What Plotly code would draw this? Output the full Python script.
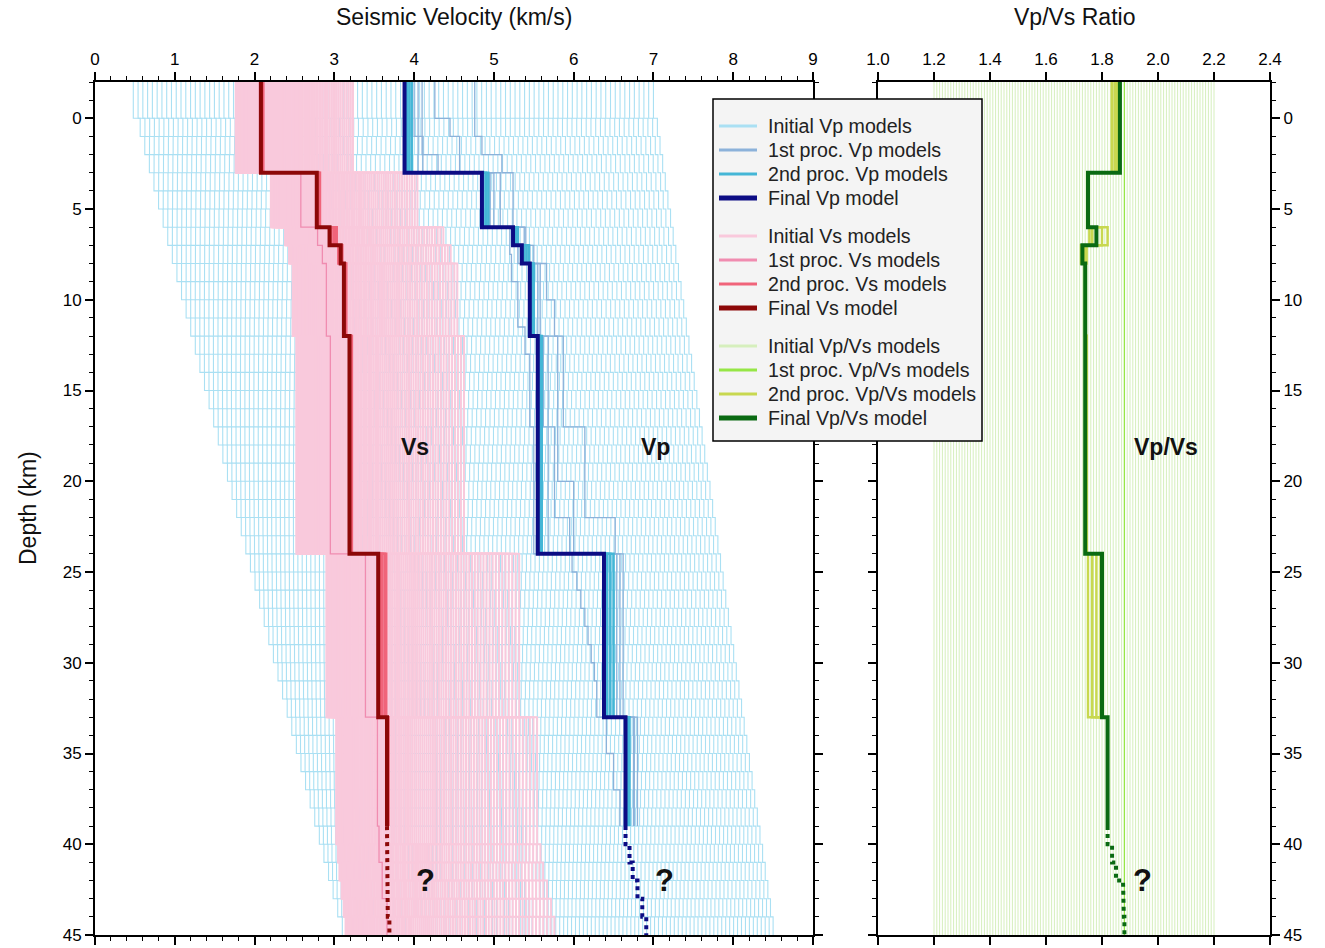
import numpy as np
import plotly.graph_objects as go

W, H = 1325, 948

# ---------------- data ----------------
# final models (block tops in km, value inside each block)
FINAL_TOPS = [-2, 3, 6, 7, 8, 12, 24, 33]
SOLID_BOTTOM = 39
VP_FINAL = [3.88, 4.85, 5.24, 5.35, 5.45, 5.55, 6.38, 6.65]
VS_FINAL = [2.08, 2.78, 2.94, 3.08, 3.12, 3.19, 3.55, 3.66]
RATIO_FINAL = [1.864, 1.75, 1.78, 1.73, 1.74, 1.74, 1.80, 1.82]

# uncertain (dotted) part of final models
DOT_TOPS = [39, 40, 41, 42, 43, 44]
MAX_DEPTH = 45
VP_FINAL_DOT = [6.65, 6.70, 6.74, 6.80, 6.86, 6.91]
VS_FINAL_DOT = [3.66, 3.66, 3.66, 3.66, 3.67, 3.69]
RATIO_FINAL_DOT = [1.82, 1.836, 1.85, 1.875, 1.878, 1.88]

# 1st processing Vp models
VP1_A_TOPS = [-2, 0, 1, 3, 6, 7, 8, 12, 24, 33]
VP1_A = [4.26, 4.45, 4.57, 4.95, 5.30, 5.45, 5.55, 5.68, 6.54, 6.75]
VP1_B_TOPS = [-2, 1, 2, 3, 6, 8, 10, 12, 17, 22, 24, 33]
VP1_B = [4.76, 4.85, 5.10, 5.24, 5.40, 5.66, 5.76, 5.87, 6.14, 6.52, 6.62, 6.80]
VP1_C_TOPS = [-2, 2, 3, 6, 7.5, 9, 11.5, 13, 17, 24, 25, 26, 27, 28, 29, 30, 31, 33, 35, 37]
VP1_C = [4.10, 4.30, 5.08, 5.20, 5.22, 5.30, 5.39, 5.45, 5.50, 5.98, 6.04, 6.09,
         6.14, 6.18, 6.22, 6.26, 6.29, 6.41, 6.50, 6.58]
VP1_D_TOPS = [-2, 1, 3, 6, 8, 12, 17, 22, 24, 33]
VP1_D = [4.00, 4.11, 4.95, 5.30, 5.50, 5.62, 5.76, 5.95, 6.45, 6.70]
VP1_E_TOPS = [-2, 3, 6, 7, 8, 12, 20, 24, 33]
VP1_E = [4.05, 5.00, 5.38, 5.50, 5.58, 5.80, 6.00, 6.58, 6.76]

# 2nd processing models (on the final block tops)
VP2 = [[3.91, 4.87, 5.26, 5.38, 5.47, 5.57, 6.42, 6.67],
       [3.94, 4.90, 5.28, 5.41, 5.48, 5.58, 6.46, 6.68],
       [3.97, 4.93, 5.30, 5.44, 5.50, 5.60, 6.50, 6.70]]
VS2 = [[2.09, 2.78, 2.96, 3.05, 3.13, 3.20, 3.57, 3.66],
       [2.10, 2.80, 2.99, 3.08, 3.14, 3.21, 3.60, 3.67],
       [2.10, 2.81, 3.01, 3.09, 3.14, 3.21, 3.63, 3.67],
       [2.11, 2.82, 3.03, 3.10, 3.15, 3.22, 3.65, 3.68]]
RATIO2 = [[1.835, 1.75, 1.755, 1.725, 1.74, 1.745, 1.75, 1.82],
          [1.845, 1.75, 1.765, 1.735, 1.74, 1.745, 1.765, 1.82],
          [1.850, 1.75, 1.82, 1.745, 1.74, 1.745, 1.78, 1.82],
          [1.855, 1.75, 1.80, 1.74, 1.74, 1.745, 1.795, 1.82]]

# 1st processing Vs model and Vp/Vs ratio
VS1_TOPS = [-2, 3, 6, 7, 8, 12, 24, 33, 39, 41, 43]
VS1 = [2.06, 2.58, 2.79, 2.85, 2.90, 2.95, 3.39, 3.54, 3.56, 3.60, 3.66]
RATIO1 = [1.88]

# initial Vp model family: envelope read at top / bottom of the section
VP_INIT_EDGE_DEPTH = [-1.0, 44.5]
VP_INIT_LOW = [0.48, 3.10]
VP_INIT_HIGH = [7.00, 8.50]
VP_INIT_COUNT = 110
VP_INIT_TOPS = [-2] + list(range(0, 45))

# initial Vp/Vs ratios
RATIO_INIT_MIN, RATIO_INIT_MAX, RATIO_INIT_STEP = 1.20, 2.20, 0.01

# labels
VEL_TICKS = [0, 1, 2, 3, 4, 5, 6, 7, 8, 9]
RATIO_TICKS = [1.0, 1.2, 1.4, 1.6, 1.8, 2.0, 2.2, 2.4]
DEPTH_TICKS = [0, 5, 10, 15, 20, 25, 30, 35, 40, 45]

# ---------------- colours ----------------
C_VP0, C_VP1, C_VP2, C_VPF = "#aae0f3", "#8cb2da", "#44b6d6", "#0c0c84"
C_VS0, C_VS1, C_VS2, C_VSF = "#f9c9dc", "#f08cb0", "#f0647a", "#8c0808"
C_R0, C_R1, C_R2, C_RF = "#d6efbd", "#96e646", "#c8d850", "#0a6a12"


def step_path(tops, vals, bottom):
    xs, ys = [], []
    bounds = list(tops[1:]) + [bottom]
    for v, t, b in zip(vals, tops, bounds):
        xs += [v, v]
        ys += [t, b]
    return xs, ys


def join(paths):
    X, Y = [], []
    for xs, ys in paths:
        X += list(xs) + [None]
        Y += list(ys) + [None]
    return X, Y


def line_trace(paths, color, width, xa="x", ya="y", dash="solid"):
    X, Y = join(paths)
    return go.Scatter(x=X, y=Y, mode="lines", xaxis=xa, yaxis=ya,
                      line=dict(color=color, width=width, dash=dash),
                      hoverinfo="skip", showlegend=False)


fig = go.Figure()

# ---- initial Vp models ----
mids = [(t + b) / 2 for t, b in zip(VP_INIT_TOPS, VP_INIT_TOPS[1:] + [MAX_DEPTH])]
lo = np.interp(mids, VP_INIT_EDGE_DEPTH, VP_INIT_LOW)
hi = np.interp(mids, VP_INIT_EDGE_DEPTH, VP_INIT_HIGH)
vp0_paths = []
for k in range(VP_INIT_COUNT):
    f = k / (VP_INIT_COUNT - 1)
    vals = list(lo + f * (hi - lo))
    vp0_paths.append(step_path(VP_INIT_TOPS, vals, MAX_DEPTH))
fig.add_trace(line_trace(vp0_paths, C_VP0, 1.1))

# ---- initial Vs models = final Vp / initial ratios ----
ratios0 = np.round(np.arange(RATIO_INIT_MIN, RATIO_INIT_MAX + 1e-9, RATIO_INIT_STEP), 2)
vp_all_tops = FINAL_TOPS + DOT_TOPS
vp_all_vals = VP_FINAL + VP_FINAL_DOT
vs0_paths = [step_path(vp_all_tops, [v / r for v in vp_all_vals], MAX_DEPTH) for r in ratios0]
fig.add_trace(line_trace(vs0_paths, C_VS0, 2))

# ---- 1st / 2nd processing Vp ----
vp1_paths = [step_path(t, v, SOLID_BOTTOM) for t, v in
             [(VP1_A_TOPS, VP1_A), (VP1_B_TOPS, VP1_B), (VP1_C_TOPS, VP1_C),
              (VP1_D_TOPS, VP1_D), (VP1_E_TOPS, VP1_E)]]
fig.add_trace(line_trace(vp1_paths, C_VP1, 1.3))
fig.add_trace(line_trace([step_path(FINAL_TOPS, v, SOLID_BOTTOM) for v in VP2], C_VP2, 2.5))

# ---- 1st / 2nd processing Vs ----
fig.add_trace(line_trace([step_path(VS1_TOPS, VS1, MAX_DEPTH)], C_VS1, 1.3))
fig.add_trace(line_trace([step_path(FINAL_TOPS, v, SOLID_BOTTOM) for v in VS2], C_VS2, 2.5))

# ---- final Vs / Vp ----
fig.add_trace(line_trace([step_path(FINAL_TOPS, VS_FINAL, SOLID_BOTTOM)], C_VSF, 4))
fig.add_trace(line_trace([step_path(DOT_TOPS, VS_FINAL_DOT, MAX_DEPTH)], C_VSF, 4, dash="dot"))
fig.add_trace(line_trace([step_path(FINAL_TOPS, VP_FINAL, SOLID_BOTTOM)], C_VPF, 4))
fig.add_trace(line_trace([step_path(DOT_TOPS, VP_FINAL_DOT, MAX_DEPTH)], C_VPF, 4, dash="dot"))

# ---- Vp/Vs panel ----
fig.add_trace(line_trace([([r, r], [-2, MAX_DEPTH]) for r in ratios0], C_R0, 1, "x2", "y2"))
fig.add_trace(line_trace([([r, r], [-2, MAX_DEPTH]) for r in RATIO1], C_R1, 1.3, "x2", "y2"))
fig.add_trace(line_trace([step_path(FINAL_TOPS, v, SOLID_BOTTOM) for v in RATIO2], C_R2, 2.5, "x2", "y2"))
fig.add_trace(line_trace([step_path(FINAL_TOPS, RATIO_FINAL, SOLID_BOTTOM)], C_RF, 4, "x2", "y2"))
fig.add_trace(line_trace([step_path(DOT_TOPS, RATIO_FINAL_DOT, MAX_DEPTH)], C_RF, 4, "x2", "y2", dash="dot"))

# ---------------- layout ----------------
FONT = "Liberation Sans, Arial, Helvetica, sans-serif"


def px(xp):
    return xp / W


def py(yp):
    return 1 - yp / H


ydom = [py(935), py(82)]
common = dict(showgrid=False, zeroline=False, showline=True, linecolor="black",
              linewidth=2, mirror="allticks", ticks="outside", ticklen=8,
              tickwidth=1.5, tickcolor="black", automargin=False,
              tickfont=dict(family=FONT, size=17, color="black"))

fig.update_layout(
    width=W, height=H, margin=dict(l=0, r=0, t=0, b=0, autoexpand=False),
    paper_bgcolor="white", plot_bgcolor="white", showlegend=False,
    xaxis=dict(domain=[px(95), px(813)], range=[0, 9], side="top", anchor="y",
               tickmode="array", tickvals=VEL_TICKS,
               minor=dict(dtick=0.2, tick0=0, ticklen=4, tickwidth=1, ticks="outside",
                          tickcolor="black"),
               **common),
    yaxis=dict(domain=ydom, range=[MAX_DEPTH, -2], anchor="x",
               tickmode="array", tickvals=DEPTH_TICKS,
               minor=dict(dtick=1, tick0=0, ticklen=4, tickwidth=1, ticks="outside",
                          tickcolor="black"),
               **common),
    xaxis2=dict(domain=[px(878), px(1270)], range=[1.0, 2.4], side="top", anchor="y2",
                tickmode="array", tickvals=RATIO_TICKS,
                ticktext=[f"{t:.1f}" for t in RATIO_TICKS], **common),
    yaxis2=dict(domain=ydom, range=[MAX_DEPTH, -2], anchor="x2", side="right",
                tickmode="array", tickvals=DEPTH_TICKS,
                minor=dict(dtick=1, tick0=0, ticklen=4, tickwidth=1, ticks="outside",
                           tickcolor="black"),
                **common),
)

ann = []
# axis titles
ann.append(dict(text="Seismic Velocity (km/s)", x=px(454), y=py(17), xref="paper", yref="paper",
                xanchor="center", yanchor="middle",
                showarrow=False, font=dict(family=FONT, size=23, color="#111")))
ann.append(dict(text="Vp/Vs Ratio", x=px(1074), y=py(17), xref="paper", yref="paper",
                xanchor="center", yanchor="middle",
                showarrow=False, font=dict(family=FONT, size=23, color="#111")))
ann.append(dict(text="Depth (km)", x=px(28), y=py(508), xref="paper", yref="paper",
                xanchor="center", yanchor="middle",
                textangle=-90, showarrow=False, font=dict(family=FONT, size=23, color="#111")))
# in-plot labels
for t, x, y, xr, yr in [("Vs", 4.01, 18.1, "x", "y"), ("Vp", 7.02, 18.1, "x", "y"),
                        ("Vp/Vs", 2.03, 18.1, "x2", "y2")]:
    ann.append(dict(text=f"<b>{t}</b>", x=x, y=y, xref=xr, yref=yr, showarrow=False,
                    xanchor="center", yanchor="middle",
                    font=dict(family=FONT, size=23, color="#111")))
for x, xr, yr in [(4.14, "x", "y"), (7.14, "x", "y"), (1.945, "x2", "y2")]:
    ann.append(dict(text="<b>?</b>", x=x, y=42.0, xref=xr, yref=yr, showarrow=False,
                    xanchor="center", yanchor="middle",
                    font=dict(family=FONT, size=31, color="#111")))

# ---------------- legend (drawn as box + samples + text) ----------------
LEGEND_ITEMS = [
    ("Initial Vp models", C_VP0, 3), ("1st proc. Vp models", C_VP1, 3),
    ("2nd proc. Vp models", C_VP2, 3), ("Final Vp model", C_VPF, 5),
    ("Initial Vs models", C_VS0, 3), ("1st proc. Vs models", C_VS1, 3),
    ("2nd proc. Vs models", C_VS2, 3), ("Final Vs model", C_VSF, 5),
    ("Initial Vp/Vs models", C_R0, 3), ("1st proc. Vp/Vs models", C_R1, 3),
    ("2nd proc. Vp/Vs models", C_R2, 3), ("Final Vp/Vs model", C_RF, 5),
]
shapes = [dict(type="rect", xref="paper", yref="paper", x0=px(713), x1=px(982),
               y0=py(441), y1=py(99), fillcolor="#f4f4f4",
               line=dict(color="black", width=1.5), layer="above")]
for i, (label, col, lw) in enumerate(LEGEND_ITEMS):
    yc = 126 + 24 * i + 14 * (i // 4)
    shapes.append(dict(type="line", xref="paper", yref="paper", x0=px(719), x1=px(757),
                       y0=py(yc), y1=py(yc), line=dict(color=col, width=lw), layer="above"))
    ann.append(dict(text=label, x=px(766), y=py(yc), xref="paper", yref="paper",
                    xanchor="left", yanchor="middle", showarrow=False,
                    font=dict(family=FONT, size=19.6, color="#222")))

fig.update_layout(annotations=ann, shapes=shapes)
fig.write_html("out.html", config={"displayModeBar": False},
               post_script="document.body.style.margin='0px';document.body.style.overflow='hidden';")
